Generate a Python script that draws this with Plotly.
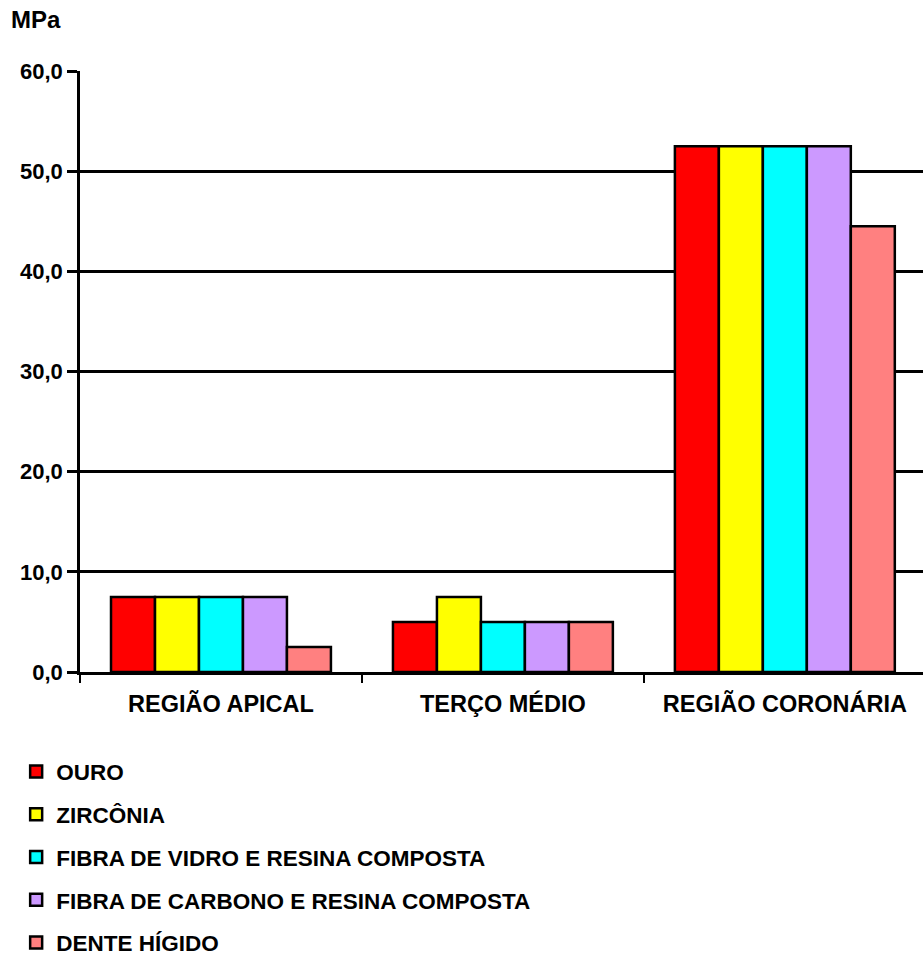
import plotly.graph_objects as go

categories = ["REGIÃO APICAL", "TERÇO MÉDIO", "REGIÃO CORONÁRIA"]
series_names = [
    "OURO",
    "ZIRCÔNIA",
    "FIBRA DE VIDRO E RESINA COMPOSTA",
    "FIBRA DE CARBONO E RESINA COMPOSTA",
    "DENTE HÍGIDO",
]
ouro = [7.5, 5.0, 52.5]
zirconia = [7.5, 7.5, 52.5]
fibra_vidro = [7.5, 5.0, 52.5]
fibra_carbono = [7.5, 5.0, 52.5]
dente_higido = [2.5, 5.0, 44.5]
colors = ["#FF0000", "#FFFF00", "#00FFFF", "#CC99FF", "#FF8080"]

y_ticks = [0, 10, 20, 30, 40, 50, 60]

FONT = "Liberation Sans, Arial, sans-serif"

fig = go.Figure()
for i, (name, vals) in enumerate(zip(series_names,
                                     [ouro, zirconia, fibra_vidro, fibra_carbono, dente_higido])):
    fig.add_trace(go.Bar(
        x=categories, y=vals, name=name,
        marker=dict(color=colors[i], line=dict(color="black", width=2.5)),
        legendgroup=f"g{i}",
    ))

fig.update_layout(
    width=923, height=956,
    margin=dict(l=80, r=0, t=71, b=284, autoexpand=False),
    paper_bgcolor="white", plot_bgcolor="white",
    barmode="group", bargap=0.22, bargroupgap=0,
    separators=",.",
    font=dict(family=FONT, size=22, color="black", weight="bold"),
    showlegend=True,
    legend=dict(
        xref="container", yref="container",
        x=0.0175, xanchor="left", y=0.215, yanchor="top",
        orientation="v", tracegroupgap=10.5,
        font=dict(family=FONT, size=22.5, color="black", weight="bold"),
        itemwidth=30, bgcolor="rgba(0,0,0,0)",
    ),
    xaxis=dict(
        range=[-0.5, 2.49],
        showline=True, linecolor="black", linewidth=3,
        ticks="outside", tickson="boundaries", ticklen=8, tickwidth=2,
        tickcolor="black", showgrid=False, ticklabelstandoff=9,
        tickfont=dict(family=FONT, size=23.5, color="black", weight="bold"),
    ),
    yaxis=dict(
        range=[0, 60], tickvals=y_ticks, tickformat=".1f",
        showline=True, linecolor="black", linewidth=2.5,
        showgrid=True, gridcolor="black", gridwidth=2.5,
        ticks="outside", ticklen=10, tickwidth=2.5, tickcolor="black",
        zeroline=False,
        tickfont=dict(family=FONT, size=22, color="black", weight="bold"),
    ),
)

fig.add_annotation(
    text="MPa", xref="paper", yref="paper",
    x=-0.084, y=1.06, xanchor="left", yanchor="bottom", showarrow=False,
    font=dict(family=FONT, size=24, color="black", weight="bold"),
)

fig.write_html("out.html")
